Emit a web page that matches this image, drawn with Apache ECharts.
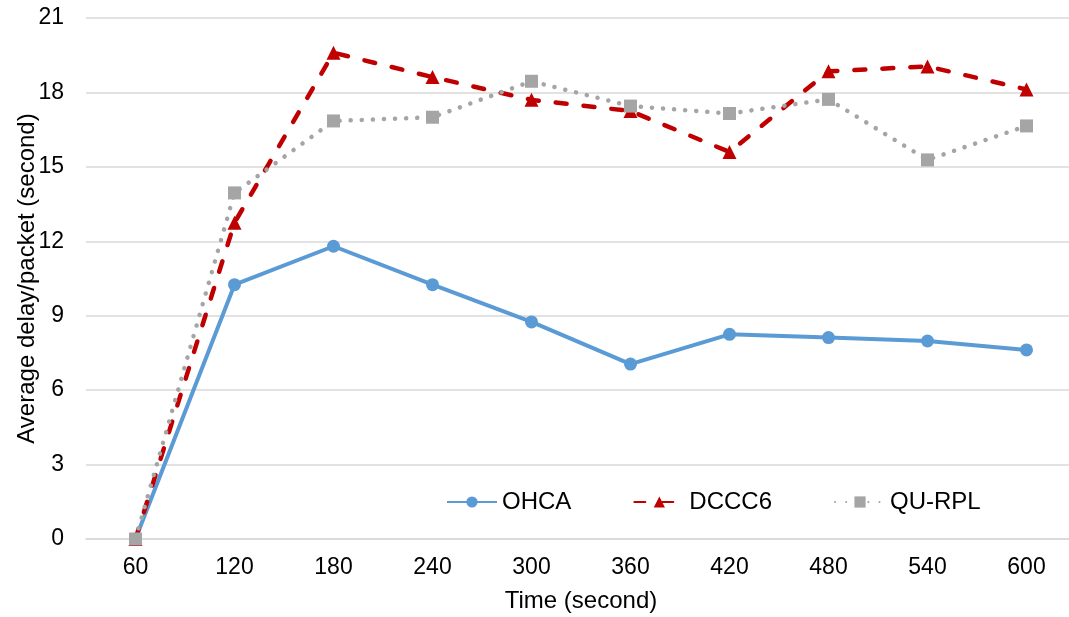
<!DOCTYPE html>
<html>
<head>
<meta charset="utf-8">
<script src="https://cdn.jsdelivr.net/npm/echarts@6/dist/echarts.min.js"></script>
<style>
  html, body { margin: 0; padding: 0; background: #fff; overflow: hidden; }
  #main { width: 100vw; height: 100vh; }
</style>
</head>
<body>
<div id="main"></div>
<script>
// data
const times = ['60', '120', '180', '240', '300', '360', '420', '480', '540', '600'];
const ohca = [0, 10.25, 11.8, 10.25, 8.75, 7.05, 8.25, 8.12, 7.98, 7.62];
const dccc6 = [0, 12.75, 19.6, 18.62, 17.7, 17.25, 15.6, 18.85, 19.05, 18.12];
const quRpl = [0, 13.95, 16.85, 17.0, 18.45, 17.45, 17.15, 17.72, 15.28, 16.65];

const chart = echarts.init(document.getElementById('main'));
const font = 'Liberation Sans, Arial, sans-serif';

chart.setOption({
  animation: false,
  backgroundColor: '#fff',
  grid: { left: 86, top: 18, right: -7, bottom: 78, outerBoundsMode: 'none' },
  legend: {
    left: 441,
    top: 485,
    itemWidth: 50,
    itemHeight: 14,
    itemGap: 62,
    textStyle: { fontFamily: font, fontSize: 24, color: '#000' },
    data: ['OHCA', 'DCCC6', 'QU-RPL']
  },
  xAxis: {
    type: 'category',
    data: times,
    name: 'Time (second)',
    nameLocation: 'middle',
    nameGap: 50,
    nameTextStyle: { fontFamily: font, fontSize: 24, color: '#000' },
    axisLine: { lineStyle: { color: '#d9d9d9', width: 1.5 } },
    axisTick: { show: false },
    axisLabel: { fontFamily: font, fontSize: 23, color: '#000', margin: 17 }
  },
  yAxis: {
    type: 'value',
    min: 0, max: 21, interval: 3,
    name: 'Average delay/packet (second)',
    nameLocation: 'middle',
    nameGap: 47,
    nameMoveOverlap: false,
    nameTextStyle: { fontFamily: font, fontSize: 24, color: '#000' },
    axisLine: { show: false },
    axisTick: { show: false },
    axisLabel: { fontFamily: font, fontSize: 23, color: '#000', margin: 22 },
    splitLine: { lineStyle: { color: '#d9d9d9', width: 1.5 } }
  },
  series: [
    {
      name: 'OHCA', type: 'line', data: ohca,
      symbol: 'circle', symbolSize: 13,
      color: '#5B9BD5',
      lineStyle: { width: 4, color: '#5B9BD5' },
      itemStyle: { color: '#5B9BD5' }
    },
    {
      name: 'DCCC6', type: 'line', data: dccc6,
      symbol: 'triangle', symbolSize: 14,
      color: '#C00000',
      lineStyle: { width: 4.5, color: '#C00000', type: [11, 17], cap: 'round' },
      itemStyle: { color: '#C00000' }
    },
    {
      name: 'QU-RPL', type: 'line', data: quRpl,
      symbol: 'rect', symbolSize: 13,
      color: '#A5A5A5',
      lineStyle: { width: 4.5, color: '#A5A5A5', type: [0.1, 11], cap: 'round' },
      itemStyle: { color: '#A5A5A5' }
    }
  ]
});
</script>
</body>
</html>
